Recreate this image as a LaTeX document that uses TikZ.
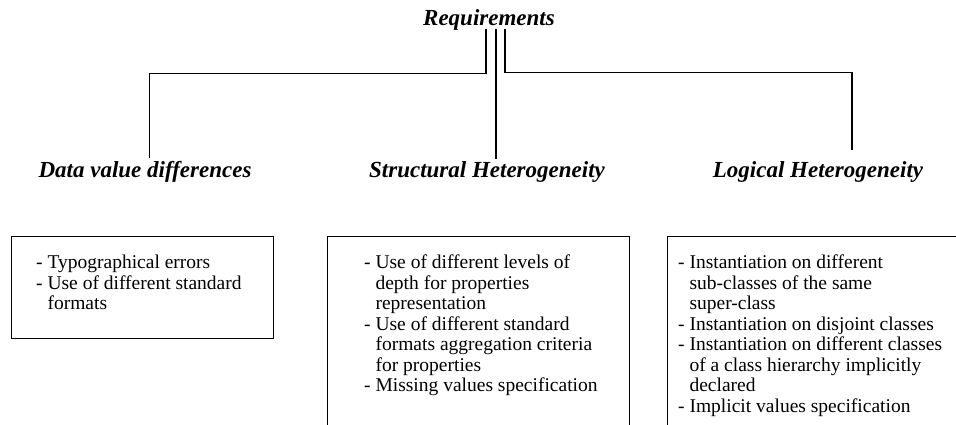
\documentclass[tikz,border=0pt]{standalone}
\usepackage{fontspec}
\setmainfont{Liberation Serif}
\begin{document}
\begin{tikzpicture}[x=1pt,y=-1pt,
  title/.style={font=\fontsize{23}{26}\selectfont\bfseries\itshape, inner sep=0pt, anchor=center},
  itemtext/.style={font=\fontsize{19.5}{20.5}\selectfont, inner sep=0pt, anchor=north west, align=left},
  frame/.style={draw=black, line width=1pt},
  conn/.style={draw=black, line width=1.2pt}]
\useasboundingbox (0,0) rectangle (956,425);
\fill[white] (0,0) rectangle (956,425);

% titles
\node[title] (req) at (489,20) {Requirements};
\node[title] (dvd) at (145,172) {Data value differences};
\node[title] (sh)  at (487,172) {Structural Heterogeneity};
\node[title] (lh)  at (818,172) {Logical Heterogeneity};

% connector coordinates
\coordinate (l1) at (486,29);
\coordinate (l2) at (149.5,73.5);
\coordinate (l3) at (149.5,158);
\coordinate (m1) at (496,29);
\coordinate (m2) at (496,159);
\coordinate (r1) at (505,29);
\coordinate (r2) at (852,72.5);
\coordinate (r3) at (852,150);

\draw[conn] (l1) |- (l2) -- (l3);
\draw[conn] (m1) -- (m2);
\draw[conn] (r1) |- (r2) -- (r3);

% boxes
\draw[frame] (11,236) rectangle (273,338);
\draw[frame] (327,236) rectangle (629,440);
\draw[frame] (667,236) rectangle (975,440);

\node[itemtext] (t1) at (36,255) {- Typographical errors\\- Use of different standard\\\hphantom{- }formats};
\node[itemtext] (t2) at (364,255) {- Use of different levels of\\\hphantom{- }depth for properties\\\hphantom{- }representation\\- Use of different standard\\\hphantom{- }formats aggregation criteria\\\hphantom{- }for properties\\- Missing values specification};
\node[itemtext] (t3) at (678,255) {- Instantiation on different\\\hphantom{- }sub-classes of the same\\\hphantom{- }super-class\\- Instantiation on disjoint classes\\- Instantiation on different classes\\\hphantom{- }of a class hierarchy implicitly\\\hphantom{- }declared\\- Implicit values specification};
\end{tikzpicture}
\end{document}
